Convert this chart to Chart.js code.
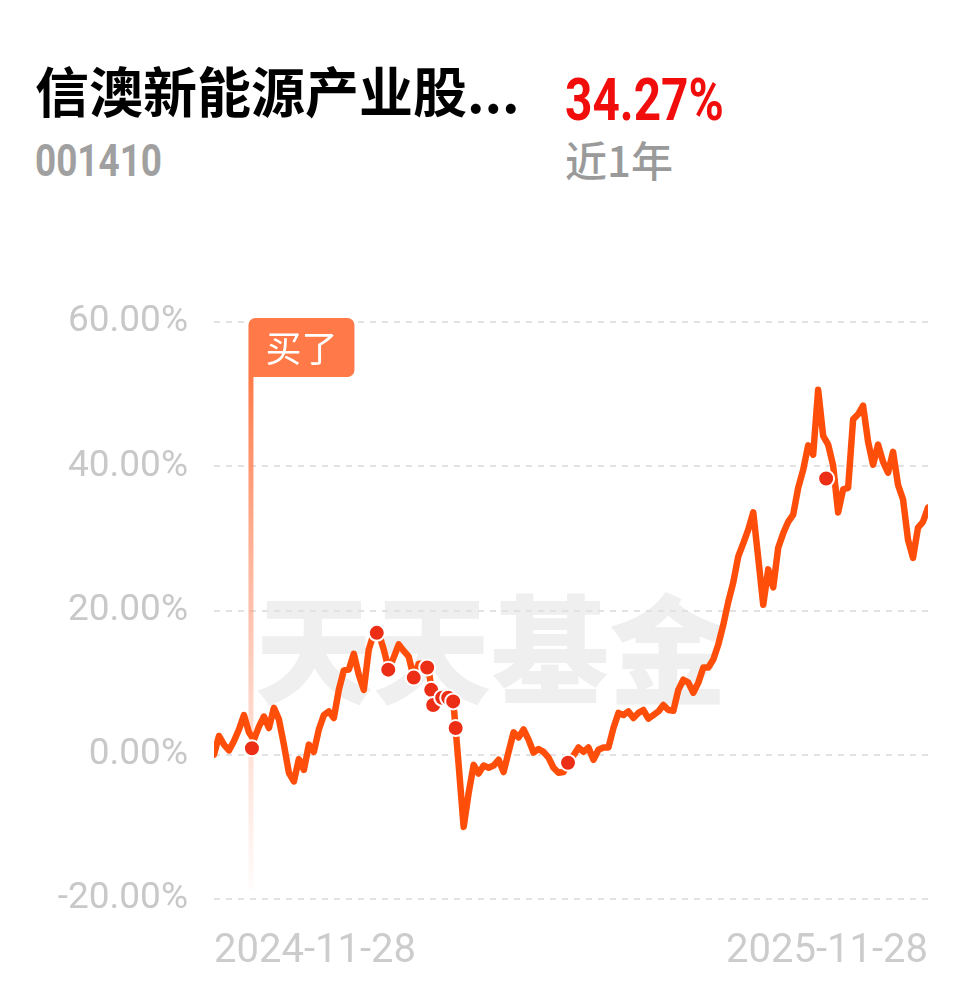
<!DOCTYPE html>
<html><head><meta charset="utf-8">
<script src="https://cdn.jsdelivr.net/npm/chart.js@4/dist/chart.umd.min.js"></script>
<style>
html,body{margin:0;padding:0;background:#fff;width:978px;height:986px;overflow:hidden;}
#wrap{position:relative;width:978px;height:986px;}
.t{position:absolute;white-space:nowrap;line-height:1;}
#title{left:35px;top:63px;font-weight:700;font-size:54px;font-family:"Noto Sans CJK SC";color:#000;}
#pct{left:565px;top:70px;font-weight:700;font-size:59px;font-family:Roboto;color:#f20d0d;transform:scaleX(0.81);transform-origin:0 0;}
#code{left:35px;top:138px;font-weight:700;font-size:45px;font-family:Roboto;color:#a0a0a0;transform:scaleX(0.82);transform-origin:0 0;}
#period{left:565px;top:138px;font-weight:500;font-size:42px;font-family:"Noto Sans CJK SC";color:#9a9a9a;}
#wm{left:255px;top:585px;font-weight:900;font-size:118px;font-family:"Noto Sans CJK SC";color:#efefef;}
canvas{position:absolute;left:0;top:0;}
</style></head>
<body><div id="wrap">
<div class="t" id="wm">天天基金</div>
<div class="t" id="title">信澳新能源产业股...</div>
<div class="t" id="pct">34.27%</div>
<div class="t" id="code">001410</div>
<div class="t" id="period">近1年</div>
<canvas id="c" width="978" height="986"></canvas>
</div>
<script>
const xTickLabels = ['2024-11-28', '2025-11-28'];
const yTickValues = [-20, 0, 20, 40, 60];
const returns = [0, 2.6, 1.4, 0.6, 1.9, 3.5, 5.5, 3.1, 2.1, 3.9,
 5.3, 3.7, 6.5, 4.9, 1.4, -2.5, -3.7, -0.6, -2.1, 1.4,
 0.4, 3.5, 5.5, 6.0, 5.1, 9.0, 11.7, 11.8, 14.0, 11.1,
 9.0, 14.6, 16.8, 16.8, 14.6, 11.8, 13.5, 15.3, 14.4, 13.6,
 10.7, 12.6, 12.6, 11.8, 6.9, 7.6, 7.9, 7.9, 6.8, -1.4,
 -10.0, -5.3, -1.4, -2.6, -1.5, -1.8, -1.5, -0.7, -2.4, 0.4,
 3.1, 2.4, 3.5, 2.1, 0.3, 0.8, 0.4, -0.4, -1.8, -2.5,
 -2.4, -1.1, -0.1, 1.0, 0.4, 1.0, -0.7, 0.7, 1.0, 1.0,
 3.7, 5.8, 5.5, 6.0, 5.1, 5.8, 6.2, 5.0, 5.5, 6.0,
 6.9, 6.2, 6.1, 9.0, 10.4, 10.0, 8.6, 10.0, 12.1, 12.1,
 13.2, 15.3, 18.0, 21.2, 23.9, 27.5, 29.3, 31.2, 33.6, 27.3,
 20.8, 25.7, 23.2, 28.7, 30.7, 32.3, 33.3, 37.0, 39.5, 42.9,
 41.6, 50.6, 44.2, 43.0, 40.1, 33.6, 36.8, 37.0, 46.5, 47.2,
 48.4, 43.4, 40.2, 43.0, 40.6, 39.1, 42.0, 37.4, 35.4, 29.8,
 27.3, 31.5, 32.3, 34.27];
const tradeIndex = [7.6, 32.6, 34.9, 40, 42.7, 43.5, 43.9, 45.7, 46.9, 47.9, 48.4, 70.9, 122.6];
const tradeValues = [0.9, 16.9, 11.8, 10.7, 12.1, 9.0, 6.9, 7.9, 7.9, 7.4, 3.7, -1.1, 38.3];
const buyIndex = 7.4;
const buyLabel = '买了';

const lastIndex = returns.length - 1;

const flagPlugin = {
  id: 'buyFlag',
  beforeDatasetsDraw(chart) {
    const ctx = chart.ctx;
    const xs = chart.scales.x;
    const area = chart.chartArea;
    const px = xs.getPixelForValue(buyIndex);
    const flagTop = area.top - 4;
    const flagH = 59, flagW = 106, poleW = 5;
    const poleTop = flagTop + flagH;
    const poleBottom = area.bottom - 9;
    ctx.save();
    const g = ctx.createLinearGradient(0, poleTop, 0, poleBottom);
    g.addColorStop(0, 'rgba(255,122,72,1)');
    g.addColorStop(0.45, 'rgba(255,150,115,0.6)');
    g.addColorStop(1, 'rgba(255,160,130,0.03)');
    ctx.fillStyle = g;
    ctx.fillRect(px - poleW / 2, poleTop, poleW, poleBottom - poleTop);
    const left = px - poleW / 2;
    ctx.fillStyle = '#ff7a48';
    ctx.beginPath();
    ctx.roundRect(left, flagTop, flagW, flagH, [7, 7, 7, 0]);
    ctx.fill();
    ctx.fillStyle = '#ffffff';
    ctx.font = '36px "Noto Sans CJK SC"';
    ctx.textAlign = 'center';
    ctx.textBaseline = 'middle';
    ctx.fillText(buyLabel, left + flagW / 2, flagTop + flagH / 2 + 1);
    ctx.restore();
  }
};

new Chart(document.getElementById('c'), {
  type: 'line',
  data: {
    datasets: [
      {
        type: 'scatter',
        data: tradeIndex.map((x, i) => ({ x: x, y: tradeValues[i] })),
        pointRadius: 8,
        pointBackgroundColor: '#ec2e17',
        pointBorderColor: '#ffffff',
        pointBorderWidth: 2,
        order: 0
      },
      {
        data: returns.map((v, i) => ({ x: i, y: v })),
        borderColor: '#ff4d0a',
        borderWidth: 6.5,
        pointRadius: 0,
        tension: 0,
        borderJoinStyle: 'round',
        borderCapStyle: 'round',
        fill: false,
        order: 1
      }
    ]
  },
  options: {
    responsive: false,
    animation: false,
    layout: { padding: { left: 0, right: 50, top: 322, bottom: 17 } },
    plugins: { legend: { display: false }, tooltip: { enabled: false } },
    scales: {
      x: {
        type: 'linear',
        min: 0,
        max: lastIndex,
        grid: { display: false },
        border: { display: false },
        afterBuildTicks(scale) { scale.ticks = [{ value: 0 }, { value: lastIndex }]; },
        afterFit(scale) { scale.height = 70; },
        ticks: {
          align: 'inner',
          maxRotation: 0,
          autoSkip: false,
          padding: 21,
          color: '#cccccc',
          font: { family: 'Roboto', size: 40 },
          callback: (v) => (v === 0 ? xTickLabels[0] : xTickLabels[1])
        }
      },
      y: {
        min: -20,
        max: 60,
        afterBuildTicks(scale) { scale.ticks = yTickValues.map(v => ({ value: v })); },
        afterFit(scale) { scale.width = 214; },
        grid: { color: '#e2e2e2', lineWidth: 2, drawTicks: false },
        border: { display: false, dash: [6, 6] },
        ticks: {
          padding: 26,
          color: '#c8c8c8',
          font: { family: 'Roboto', size: 37 },
          callback: (v) => v.toFixed(2) + '%'
        }
      }
    }
  },
  plugins: [flagPlugin]
});
</script>
</body></html>
